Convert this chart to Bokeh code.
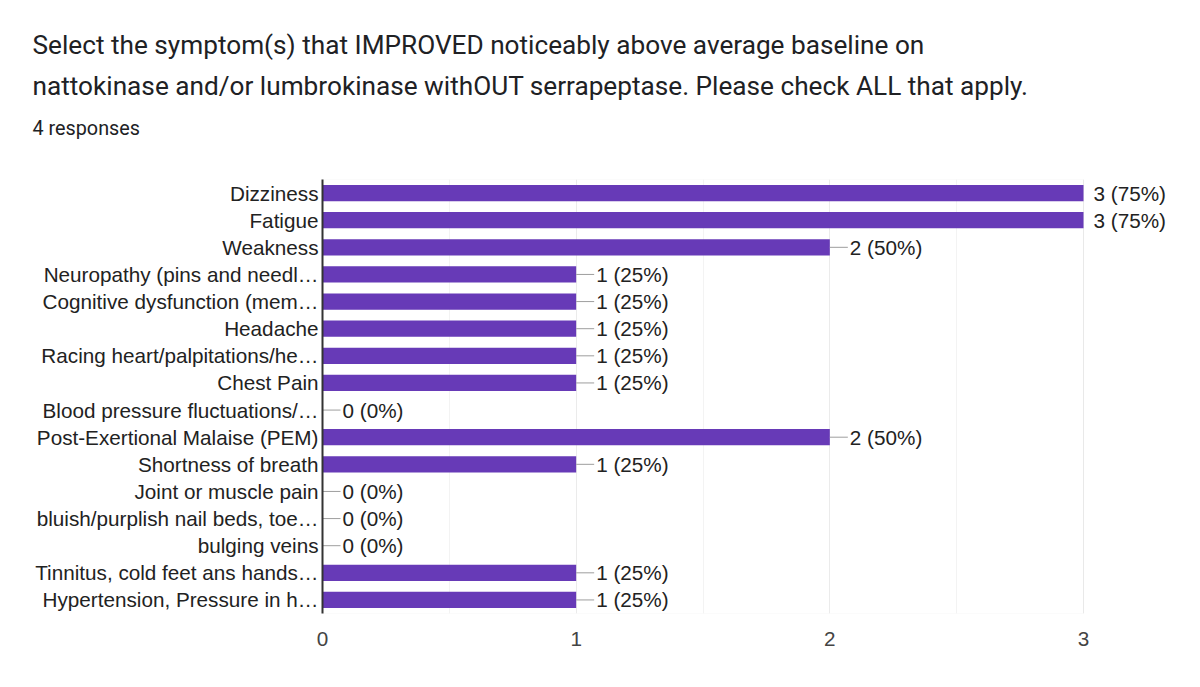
from bokeh.plotting import figure
from bokeh.models import (FactorRange, Range1d, FixedTicker, LabelSet,
                          ColumnDataSource, BoxAnnotation, Title)
from bokeh.core.properties import value
from bokeh.embed import file_html
from bokeh.resources import INLINE

title_line1 = "Select the symptom(s) that IMPROVED noticeably above average baseline on"
title_line2 = "nattokinase and/or lumbrokinase withOUT serrapeptase. Please check ALL that apply."
responses = 4
subtitle = f"{responses} responses"

symptoms = [
    "Dizziness",
    "Fatigue",
    "Weakness",
    "Neuropathy (pins and needl\u2026",
    "Cognitive dysfunction (mem\u2026",
    "Headache",
    "Racing heart/palpitations/he\u2026",
    "Chest Pain",
    "Blood pressure fluctuations/\u2026",
    "Post-Exertional Malaise (PEM)",
    "Shortness of breath",
    "Joint or muscle pain",
    "bluish/purplish nail beds, toe\u2026",
    "bulging veins",
    "Tinnitus, cold feet ans hands\u2026",
    "Hypertension, Pressure in h\u2026",
]
counts = [3, 3, 2, 1, 1, 1, 1, 1, 0, 2, 1, 0, 0, 0, 1, 1]
x_ticks = [0, 1, 2, 3]
x_minor = [0.5, 1.5, 2.5]

labels = [f"{c} ({round(100 * c / responses)}%)" for c in counts]
xmax = max(x_ticks)

inner = ColumnDataSource(dict(
    y=[s for s, c in zip(symptoms, counts) if c < xmax],
    x=[c for c in counts if c < xmax],
    t=[l for l, c in zip(labels, counts) if c < xmax]))
outer = ColumnDataSource(dict(
    y=[s for s, c in zip(symptoms, counts) if c >= xmax],
    x=[c for c in counts if c >= xmax],
    t=[l for l, c in zip(labels, counts) if c >= xmax]))
bars = ColumnDataSource(dict(y=symptoms, x=counts))

W, H = 1184, 671
TXT = "#202124"
font = "Liberation Sans"

left_b, top_b, bot_b = 322, 179, 58
axis_px = 1083 - 322          # pixel span of 0..xmax in the reference
frame_w = W - left_b
x_end = xmax * frame_w / axis_px

p = figure(width=W, height=H, output_backend="svg", toolbar_location=None,
           y_range=FactorRange(factors=list(reversed(symptoms)), range_padding=0),
           x_range=Range1d(0, x_end),
           min_border_left=left_b, min_border_right=0,
           min_border_top=top_b, min_border_bottom=bot_b)
p.outline_line_color = None
p.background_fill_color = "white"
p.border_fill_color = "white"

# spacer between frame and subtitle
p.add_layout(Title(text=" ", text_font_size="10px", standoff=20), "above")

# titles: added nearest-to-frame first
title_off = 32 - left_b
for txt, fs, so in [(subtitle, "19.8px", 14), (title_line2, "26.2px", 14), (title_line1, "26.2px", 4)]:
    p.add_layout(Title(text=txt, align="left", offset=title_off, standoff=so,
                       text_font="Roboto", text_font_size=fs,
                       text_font_style="normal", text_color=TXT), "above")

p.add_layout(BoxAnnotation(left=0, right=xmax, fill_color=None,
                           line_color="#e6e6e6", line_width=1, level="underlay"))

p.hbar(y="y", right="x", left=0, height=0.6, source=bars,
       fill_color="#673ab7", line_color=None)

p.ray(x="x", y="y", length=18, angle=0, length_units="screen",
      source=inner, line_color="#9e9e9e", line_width=1)

p.add_layout(LabelSet(x="x", y="y", text="t", source=inner, x_offset=20,
                      text_baseline="middle", text_font_size=value("20.7px"),
                      text_font=value(font), text_color="#222222"))
p.add_layout(LabelSet(x="x", y="y", text="t", source=outer, x_offset=10,
                      text_baseline="middle", text_font_size=value("20.7px"),
                      text_font=value(font), text_color="#222222"))

p.xaxis.ticker = FixedTicker(ticks=x_ticks, minor_ticks=x_minor)
p.xaxis.major_tick_line_color = None
p.xaxis.minor_tick_line_color = None
p.xaxis.axis_line_color = None
p.xaxis.major_label_text_font = font
p.xaxis.major_label_text_font_size = "20.7px"
p.xaxis.major_label_text_color = "#444444"
p.xaxis.major_label_standoff = 12

p.yaxis.major_tick_line_color = None
p.yaxis.minor_tick_line_color = None
p.yaxis.axis_line_color = "#333333"
p.yaxis.axis_line_width = 2
p.yaxis.major_label_text_font = font
p.yaxis.major_label_text_font_size = "20.7px"
p.yaxis.major_label_text_color = "#222222"
p.yaxis.major_label_standoff = -2

p.ygrid.grid_line_color = None
p.xgrid.grid_line_color = "#ebebeb"
p.xgrid.minor_grid_line_color = "#f3f3f3"

open("out.html", "w").write(file_html(p, INLINE))
